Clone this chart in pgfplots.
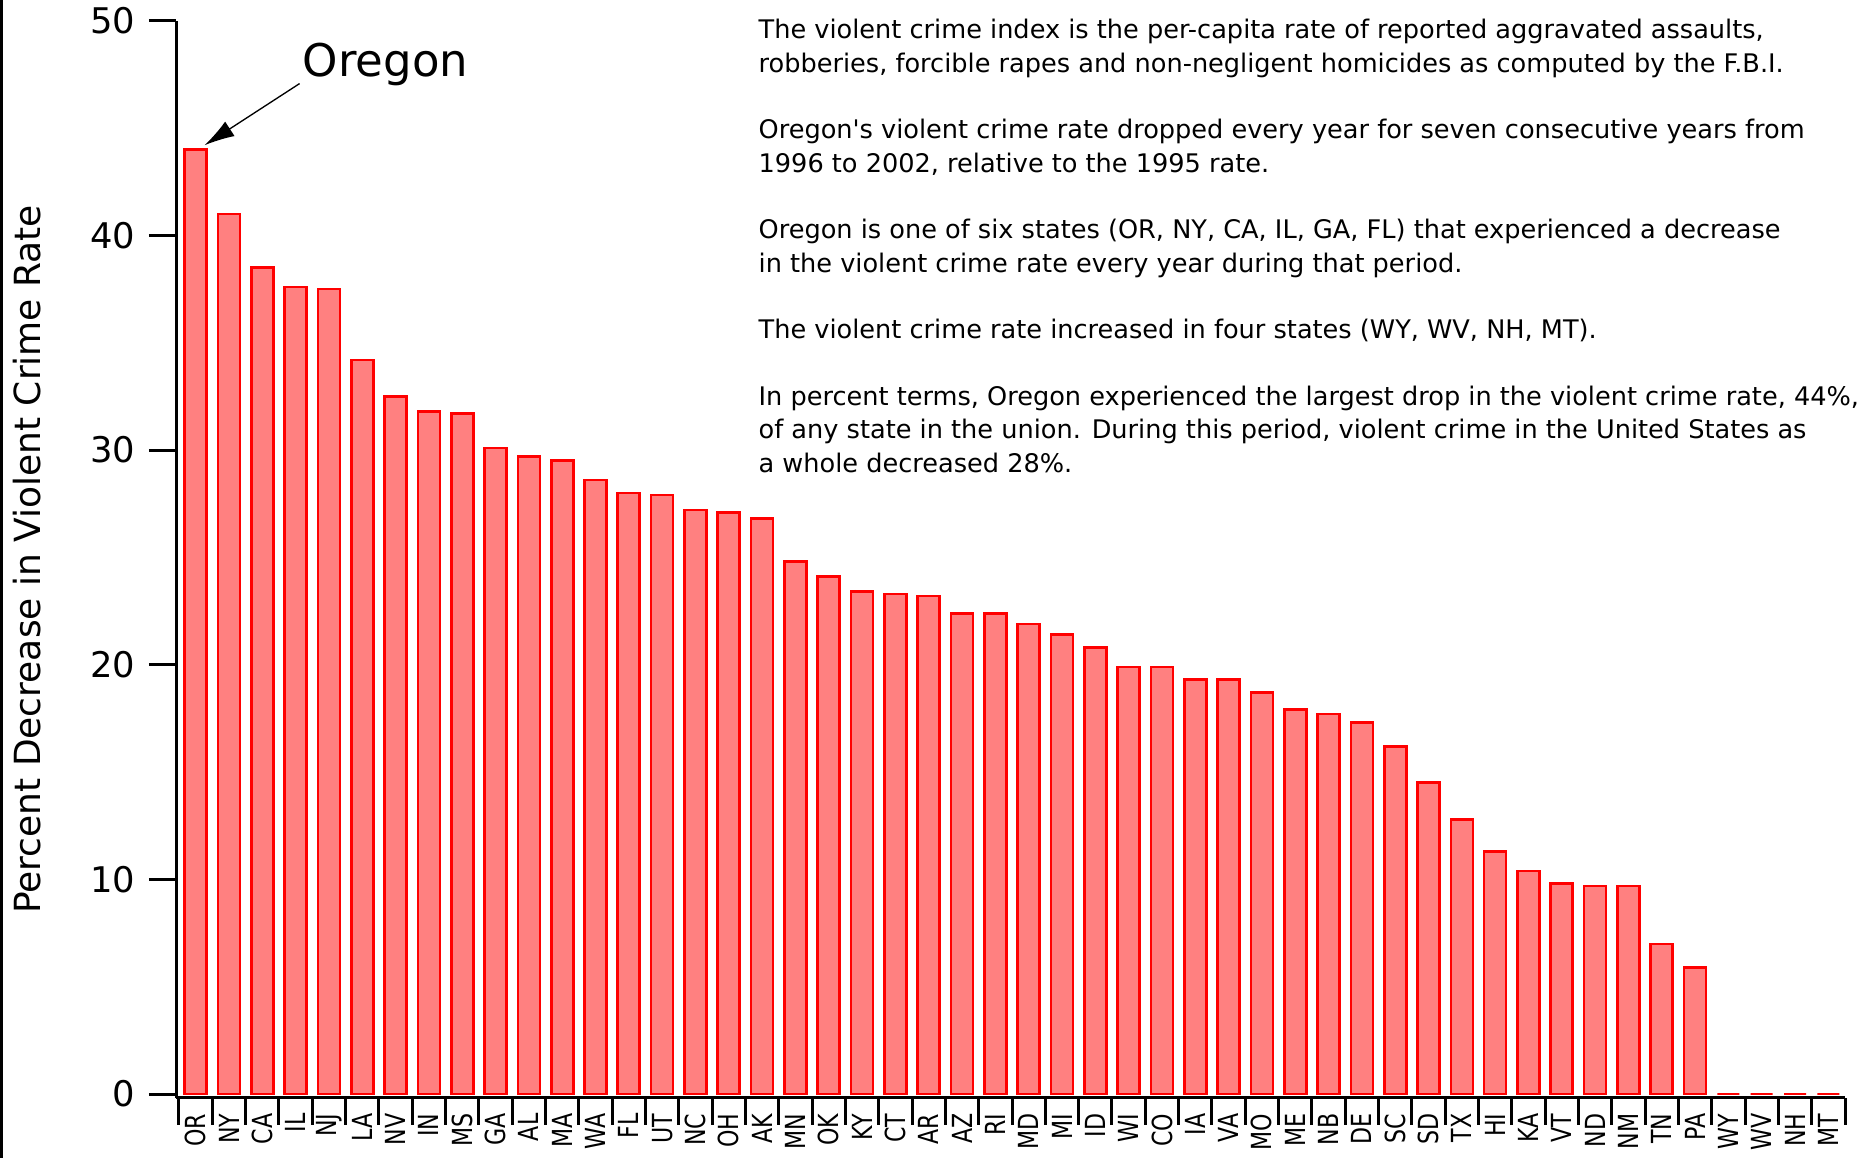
\documentclass[border=0pt]{standalone}
\usepackage{fontspec}
\setmainfont[Ligatures=TeXOff]{DejaVu Sans}
\newfontfamily\narrowfont[FakeStretch=0.8]{DejaVu Sans}
\usepackage{pgfplots}
\pgfplotsset{compat=1.18}
\usetikzlibrary{arrows.meta}
\definecolor{barfill}{HTML}{FF8080}
\definecolor{baredge}{HTML}{FF0000}
\begin{document}
\begin{tikzpicture}
\useasboundingbox (0,0) rectangle (557.4pt,347.4pt);
\fill[black] (0,0) rectangle (0.8pt,347.4pt);
\begin{axis}[
  at={(52.8pt,18.0pt)}, anchor=south west,
  scale only axis, width=500.7pt, height=323.2pt,
  xmin=-0.59, xmax=49.5, ymin=-0.18, ymax=50,
  axis x line*=bottom, axis y line*=left,
  axis line style={line width=0.9pt, black},
  ytick={0,10,...,50},
  xtick={0,...,49},
  xticklabels={OR,NY,CA,IL,NJ,LA,NV,IN,MS,GA,AL,MA,WA,FL,UT,NC,OH,AK,MN,OK,KY,CT,AR,AZ,RI,MD,MI,ID,WI,CO,IA,VA,MO,ME,NB,DE,SC,SD,TX,HI,KA,VT,ND,NM,TN,PA,WY,WV,NH,MT},
  minor xtick={-0.5,0.5,...,49.5},
  tick align=outside,
  major tick length=8.1pt, minor tick length=8.1pt,
  every tick/.append style={black, line width=0.9pt},
  every major x tick/.append style={draw=none},
  /pgf/number format/assume math mode=true,
  yticklabel style={font=\fontsize{10.6}{12}\selectfont, inner sep=0pt, xshift=-3.9pt},
  xticklabel shift=-3.6pt,
  xticklabel style={font=\narrowfont\fontsize{8.3}{10}\selectfont, rotate=90, anchor=east, inner sep=0pt},
  ylabel={Percent Decrease in Violent Crime Rate},
  ylabel style={font=\fontsize{10.8}{13}\selectfont, at={(axis description cs:-0.0809,0.5)}, anchor=base},
  clip=false,
  ybar, bar width=6.6pt,
]
\addplot[draw=baredge, fill=barfill, line width=0.8pt, bar shift=0pt] coordinates {
(0,44.0) (1,41.0) (2,38.5) (3,37.6) (4,37.5) (5,34.2) (6,32.5) (7,31.8) (8,31.7) (9,30.1)
(10,29.7) (11,29.5) (12,28.6) (13,28.0) (14,27.9) (15,27.2) (16,27.1) (17,26.8) (18,24.8) (19,24.1)
(20,23.4) (21,23.3) (22,23.2) (23,22.4) (24,22.4) (25,21.9) (26,21.4) (27,20.8) (28,19.9) (29,19.9)
(30,19.3) (31,19.3) (32,18.7) (33,17.9) (34,17.7) (35,17.3) (36,16.2) (37,14.5) (38,12.8) (39,11.3)
(40,10.4) (41,9.8) (42,9.7) (43,9.7) (44,7.0) (45,5.9) (46,0) (47,0) (48,0) (49,0)
};
\draw[-{Latex[length=9pt,width=5.2pt]}, line width=0.4pt] (axis cs:3.12,47.07) -- (axis cs:0.27,44.2);
\node[anchor=base west, inner sep=0pt, font=\fontsize{13.5}{16}\selectfont] at (axis cs:3.2,47.4) {Oregon};
\end{axis}
\node[anchor=base west, inner sep=0pt] at (227.4pt,335.7pt) {\parbox[t]{600pt}{\raggedright\fontsize{7.68}{10}\selectfont
The violent crime index is the per-capita rate of reported aggravated assaults,\\
robberies, forcible rapes and non-negligent homicides as computed by the F.B.I.\\[10pt]
Oregon's violent crime rate dropped every year for seven consecutive years from\\
1996 to 2002, relative to the 1995 rate.\\[10pt]
Oregon is one of six states (OR, NY, CA, IL, GA, FL) that experienced a decrease\\
in the violent crime rate every year during that period.\\[10pt]
The violent crime rate increased in four states (WY, WV, NH, MT).\\[10pt]
In percent terms, Oregon experienced the largest drop in the violent crime rate, 44\%,\\
of any state in the union. During this period, violent crime in the United States as\\
a whole decreased 28\%.}};
\end{tikzpicture}
\end{document}
